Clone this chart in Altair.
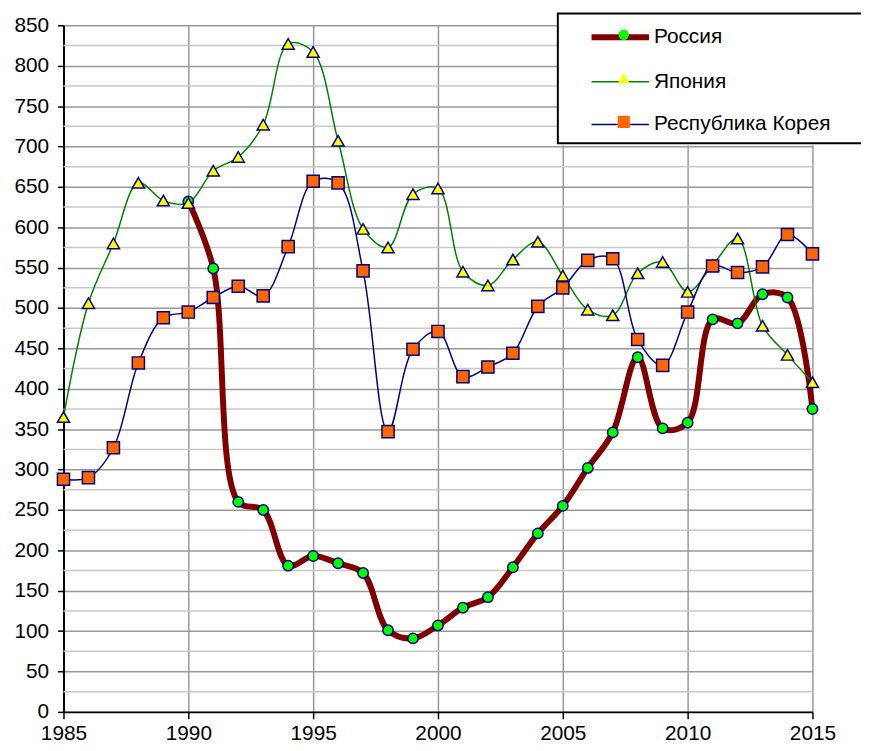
import altair as alt
import pandas as pd

# ---- data ----
years = list(range(1985, 2016))
series_names = ["Россия", "Япония", "Республика Корея"]

russia = [None, None, None, None, None,
          632, 549, 260, 250, 181, 193, 184, 172, 101, 91,
          107, 129, 142, 179, 221, 255, 302, 346, 439, 351,
          358, 486, 481, 517, 513, 375]
japan = [365, 506, 580, 655, 633,
         630, 670, 687, 727, 827, 817, 707, 598, 575, 641,
         648, 545, 528, 560, 582, 540, 498, 491, 543, 557,
         520, 553, 586, 478, 442, 408]
korea = [288, 290, 327, 432, 488,
         495, 513, 527, 515, 576, 657, 655, 546, 347, 449,
         471, 415, 427, 444, 502, 525, 559, 561, 461, 429,
         495, 552, 544, 551, 591, 567]

x_ticks = [1985, 1990, 1995, 2000, 2005, 2010, 2015]
y_ticks = list(range(0, 851, 50))
minor_grid = list(range(25, 850, 50))

line_colors = ["#800000", "#008000", "#000080"]
line_widths = [6, 1.5, 1.5]
marker_fills = ["#00ff00", "#ffff00", "#ff6600"]
marker_shapes = ["circle", "triangle-up", "square"]
marker_sizes = [110, 150, 150]

rows = []
for idx, (name, vals) in enumerate(zip(series_names, [russia, japan, korea])):
    for yr, v in zip(years, vals):
        if v is not None:
            rows.append({"year": yr, "value": v, "series": name, "idx": idx})
df = pd.DataFrame(rows)

FONT = "Liberation Sans"

x_scale = alt.Scale(domain=[1985, 2015], nice=False, zero=False)
y_scale = alt.Scale(domain=[0, 850], nice=False)

x_axis = alt.Axis(values=x_ticks, format="d", title=None, grid=True,
                  tickSize=7, labelPadding=4, labelFlush=False)
y_axis = alt.Axis(values=y_ticks, title=None, grid=True, tickSize=6, labelPadding=9)

x_enc = alt.X("year:Q", scale=x_scale, axis=x_axis)
y_enc = alt.Y("value:Q", scale=y_scale, axis=y_axis)

LX, LY = 499, -12

minor = alt.Chart(pd.DataFrame({"value": minor_grid})).mark_rule(
    color="#c8c8c8", strokeWidth=1.5
).encode(y=y_enc)

# legend of the lines (visible labels, white background)
leg_lines = alt.Legend(
    title=None, orient="none", legendX=LX, legendY=LY,
    symbolType="M-2.9,0H2.9", symbolSize=400, padding=11, symbolOffset=39,
    labelOffset=21, labelFontSize=21, labelFont=FONT, labelColor="black", labelLimit=0,
    fillColor="white", strokeColor="transparent", rowPadding=22, zindex=1,
)
lines = alt.Chart(df).mark_line(interpolate="catmull-rom").encode(
    x=x_enc, y=y_enc,
    stroke=alt.Stroke("series:N", scale=alt.Scale(domain=series_names, range=line_colors),
                      legend=leg_lines),
    strokeWidth=alt.StrokeWidth("series:N",
                                scale=alt.Scale(type="ordinal", domain=series_names, range=line_widths),
                                legend=leg_lines),
)

# legend of the markers (on top; empty labels; carries the black frame that runs off the right edge)
leg_pts = alt.Legend(
    title=None, orient="none", legendX=LX, legendY=LY,
    padding=11, symbolOffset=45, labelOffset=219, labelFontSize=21, labelFont=FONT, labelLimit=0,
    labelExpr="''",
    labelColor="transparent", strokeColor="black", fillColor="transparent",
    symbolStrokeColor="#000080", symbolStrokeWidth=1.8, rowPadding=22, zindex=2,
)
idx_domain = [0, 1, 2]
points = alt.Chart(df).mark_point(filled=True, stroke="#000080", strokeWidth=1.5, opacity=1).encode(
    x=x_enc, y=y_enc,
    fill=alt.Fill("idx:O", scale=alt.Scale(domain=idx_domain, range=marker_fills), legend=leg_pts),
    shape=alt.Shape("idx:O", scale=alt.Scale(domain=idx_domain, range=marker_shapes), legend=leg_pts),
    size=alt.Size("idx:O", scale=alt.Scale(type="ordinal", domain=idx_domain, range=marker_sizes),
                  legend=leg_pts),
)

chart = alt.layer(minor, lines, points).properties(
    width=756, height=693,
    autosize=alt.AutoSizeParams(type="none"),
    padding={"left": 56, "top": 14, "right": 49, "bottom": 36},
).configure_view(stroke=None).configure_axis(
    domainColor="black", domainWidth=2, tickColor="black", tickWidth=1.5,
    gridColor="#999999", gridWidth=1.5,
    labelFont=FONT, labelFontSize=21, labelColor="black",
).configure_legend(strokeWidth=2, cornerRadius=0, symbolStrokeColor="#000080")

chart.save("out.html", embed_options={"renderer": "svg", "actions": False})
